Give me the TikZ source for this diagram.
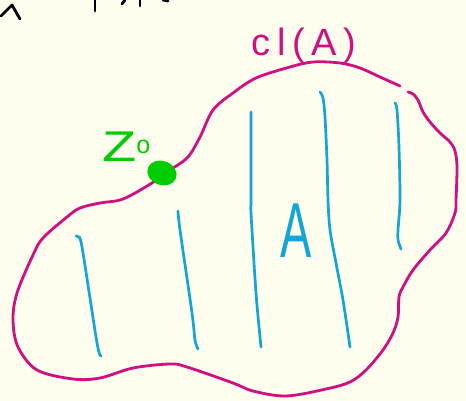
\documentclass[tikz,border=0pt]{standalone}
\usepackage{fontspec}
\newfontfamily\handfont{Liberation Sans}
\definecolor{bg}{RGB}{255,253,238}
\definecolor{mag}{RGB}{208,16,128}
\definecolor{sky}{RGB}{18,166,214}
\definecolor{grn}{RGB}{0,204,0}
\tikzset{
  magline/.style={draw=mag, line width=2.8pt, line cap=round, line join=round},
  blueline/.style={draw=sky, line width=2.7pt, line cap=round, line join=round},
  inkline/.style={draw=black, line width=2.8pt, line cap=round, line join=round},
  handlabel/.style={inner sep=0pt, anchor=base west},
}
\begin{document}
\begin{tikzpicture}[x=1pt,y=-1pt]
\fill[bg] (0,0) rectangle (466,401);
\useasboundingbox (0,0) rectangle (466,401);

% cut-off black marks at the top
\draw[inkline] (1,16) -- (12,5) -- (20,19);
\draw[inkline] (95,0) -- (95,11);
\draw[inkline] (122,4) -- (125,0);
\draw[inkline] (140,0) -- (140,6);
\draw[inkline] (163,0) -- (168,1);

% closure curve
\draw[magline] plot[smooth, tension=0.55] coordinates {
 (408,92) (413,94) (418,100) (423,112) (430,122) (440,133) (450,142) (455,151)
 (457,167) (456,200) (455,213) (446,233) (430,250) (413,270) (403,287) (399,297)
 (398,317) (393,333) (383,350) (366,370) (350,382) (326,389) (286,396) (253,391)
 (233,383) (187,367) (170,364) (133,368) (100,378) (73,379) (37,370) (18,347)
 (13,320) (17,293) (33,255) (43,238) (67,217) (80,208) (100,203) (123,199)
 (152,183) (165,173) (187,158) (200,137) (213,110) (233,93) (256,78) (290,67)
 (313,62) (340,63) (360,68) (380,77) (400,86)};

% hatching of A
\draw[blueline] plot[smooth, tension=0.5] coordinates {(76,236) (78,237) (82,247) (97,343) (101,356)};
\draw[blueline] plot[smooth, tension=0.5] coordinates {(178,211) (180,230) (192,313) (195,340) (198,349)};
\draw[blueline] plot[smooth, tension=0.5] coordinates {(251,112) (251,200) (251,213) (256,293) (261,347)};
\draw[blueline] plot[smooth, tension=0.5] coordinates {(320,92) (323,98) (325,117) (327,160) (328,200) (330,230) (336,263) (343,300) (350,347)};
\draw[blueline] plot[smooth, tension=0.5] coordinates {(395,103) (397,110) (399,147) (400,200) (398,230) (398,240) (401,249)};

% point z0
\fill[grn, rotate around={-20:(162,173)}] (162,173) ellipse [x radius=15pt, y radius=12pt];

% labels
\node[handlabel, text=mag, font=\handfont\fontsize{38}{38}\selectfont\addfontfeature{LetterSpace=18}] (clA) at (251,56) {cl(A)};
\node[handlabel, text=grn, font=\handfont\fontsize{43}{43}\selectfont] (zo) at (102,161) {\scalebox{1.3}[1]{Z}\fontsize{25}{25}\selectfont\raisebox{8pt}{o}};
\node[handlabel, text=sky, font=\handfont\fontsize{78}{78}\selectfont] (labA) at (280,257) {\scalebox{0.6}[1]{A}};
\end{tikzpicture}
\end{document}
